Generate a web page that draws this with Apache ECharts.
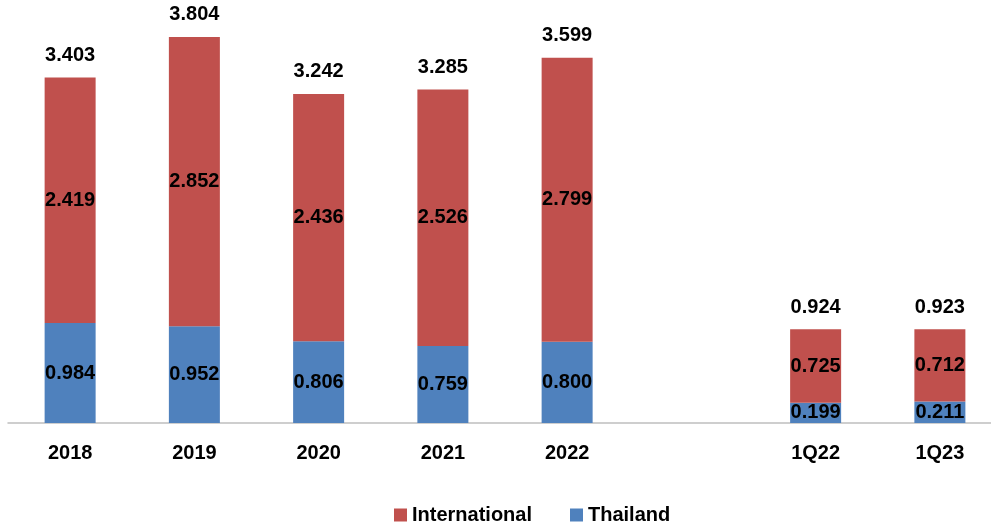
<!DOCTYPE html>
<html>
<head>
<meta charset="utf-8">
<script src="https://cdn.jsdelivr.net/npm/echarts@6/dist/echarts.min.js"></script>
<style>
  html, body { margin: 0; padding: 0; background: #fff; }
  #chart { width: 991px; height: 530px; }
</style>
</head>
<body>
<div id="chart"></div>
<script>
const categories = ['2018', '2019', '2020', '2021', '2022', '', '1Q22', '1Q23'];
const thailand = [0.984, 0.952, 0.806, 0.759, 0.800, null, 0.199, 0.211];
const international = [2.419, 2.852, 2.436, 2.526, 2.799, null, 0.725, 0.712];
const totals = [3.403, 3.804, 3.242, 3.285, 3.599, null, 0.924, 0.923];

const font = '"Liberation Sans", Arial, sans-serif';
const labelStyle = {
    show: true,
    position: 'inside',
    color: '#000',
    fontFamily: font,
    fontWeight: 'bold',
    fontSize: 20,
    formatter: (p) => p.value == null ? '' : p.value.toFixed(3)
};

let chart = echarts.init(document.getElementById('chart'));
chart.setOption({
    animation: false,
    // plot runs a bit past the right edge, as in the original crop
    grid: { left: 8, width: 994, top: 17, bottom: 107, containLabel: false, outerBoundsMode: 'none' },
    legend: {
        data: ['International', 'Thailand'],
        bottom: 0,
        left: 389,
        icon: 'rect',
        itemWidth: 13,
        itemHeight: 13,
        itemGap: 38,
        textStyle: { fontFamily: font, fontWeight: 'bold', fontSize: 20, color: '#000' }
    },
    xAxis: {
        type: 'category',
        data: categories,
        axisLine: { lineStyle: { color: '#bfbfbf', width: 1.5 } },
        axisTick: { show: false },
        axisLabel: { margin: 20, color: '#000', fontFamily: font, fontWeight: 'bold', fontSize: 20 }
    },
    yAxis: {
        type: 'value',
        min: 0,
        max: 4,
        show: false,
        splitLine: { show: false }
    },
    series: [
        {
            name: 'Thailand',
            type: 'bar',
            stack: 'total',
            barWidth: 51,
            data: thailand,
            itemStyle: { color: '#4F81BD' },
            label: labelStyle
        },
        {
            name: 'International',
            type: 'bar',
            stack: 'total',
            data: international,
            itemStyle: { color: '#C0504D' },
            label: labelStyle
        },
        {
            // empty bar on top of the stack, carries the total label
            name: 'Total',
            type: 'bar',
            stack: 'total',
            data: totals.map(v => v == null ? null : 0),
            itemStyle: { color: 'transparent' },
            label: {
                show: true,
                position: 'top',
                distance: 12,
                color: '#000',
                fontFamily: font,
                fontWeight: 'bold',
                fontSize: 20,
                formatter: (p) => totals[p.dataIndex] == null ? '' : totals[p.dataIndex].toFixed(3)
            }
        }
    ]
});
</script>
</body>
</html>
